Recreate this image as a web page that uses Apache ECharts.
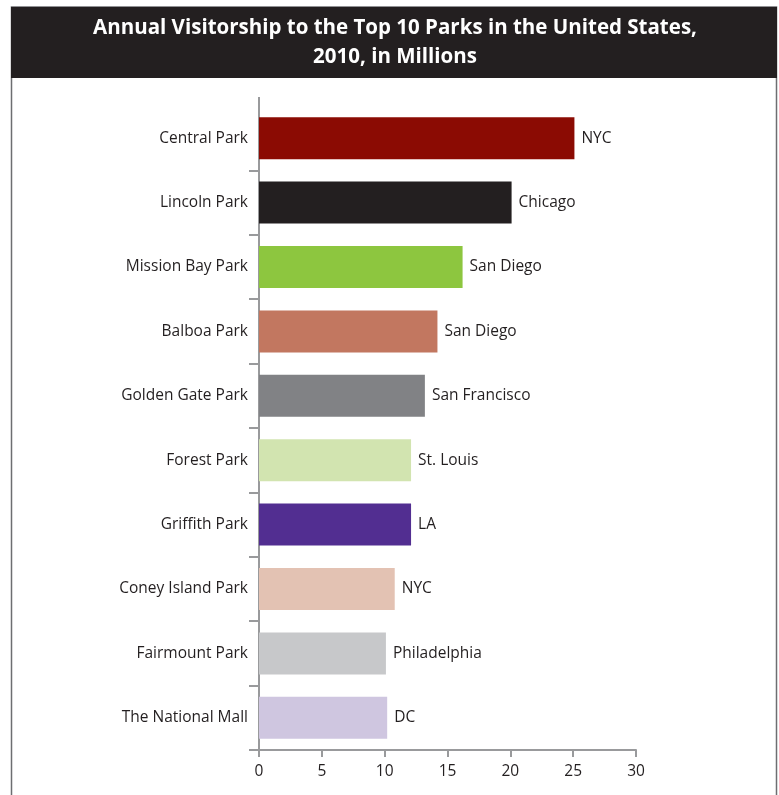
<!DOCTYPE html>
<html>
<head>
<meta charset="utf-8">
<script src="https://cdn.jsdelivr.net/npm/echarts@6/dist/echarts.min.js"></script>
<style>
html,body{margin:0;padding:0;background:#fff;}
#chart{width:779px;height:795px;}
</style>
</head>
<body>
<div id="chart"></div>
<script>
var parks = ["Central Park","Lincoln Park","Mission Bay Park","Balboa Park","Golden Gate Park","Forest Park","Griffith Park","Coney Island Park","Fairmount Park","The National Mall"];
var visitors = [25.1, 20.1, 16.2, 14.2, 13.2, 12.1, 12.1, 10.8, 10.1, 10.2];
var cities = ["NYC","Chicago","San Diego","San Diego","San Francisco","St. Louis","LA","NYC","Philadelphia","DC"];
var barColors = ["#8b0b03","#231f20","#8dc63f","#c27760","#818285","#d2e4b0","#522e91","#e3c2b3","#c7c8ca","#cfc6e0"];
var xTicks = [0,5,10,15,20,25,30];

var FONT = "Open Sans";
var chart = echarts.init(document.getElementById('chart'), null, {renderer:'canvas'});
chart.setOption({
  animation:false,
  backgroundColor:'#ffffff',
  graphic:[
    {type:'rect', shape:{x:11.5,y:7,width:765,height:800}, style:{fill:'none', stroke:'#6d6e71', lineWidth:1.5}, z:0},
    {type:'rect', shape:{x:11,y:7,width:766,height:71}, style:{fill:'#231f20'}, z:1},
    {type:'text', x:395, y:14, style:{text:'Annual Visitorship to the Top 10 Parks in the United States,\n2010, in Millions', fill:'#ffffff', font:'bold 20.5px "Open Sans"', align:'center', textAlign:'center', lineHeight:29}, z:2},
    {type:'line', shape:{x1:259, y1:97, x2:259, y2:107}, style:{stroke:'#999a9c', lineWidth:2}, z:3}
  ],
  grid:{left:259, right:143, top:106, bottom:45, containLabel:false},
  xAxis:{
    type:'value', min:xTicks[0], max:xTicks[xTicks.length-1], interval:5,
    axisLine:{show:true, lineStyle:{color:'#999a9c', width:2}},
    axisTick:{show:true, length:7, lineStyle:{color:'#999a9c', width:2}},
    splitLine:{show:false},
    axisLabel:{color:'#231f20', fontFamily:FONT, fontSize:15.5, margin:14}
  },
  yAxis:{
    type:'category', data:parks, inverse:true,
    axisLine:{show:true, lineStyle:{color:'#999a9c', width:2}},
    axisTick:{show:true, length:10, interval:function(i){ return i !== 0; }, lineStyle:{color:'#999a9c', width:2}},
    axisLabel:{color:'#231f20', fontFamily:FONT, fontSize:15.5, margin:11}
  },
  series:[{
    type:'bar',
    barWidth:42,
    data: visitors.map(function(v,i){ return {value:v, itemStyle:{color:barColors[i]}, label:{formatter:cities[i]}}; }),
    label:{show:true, position:'right', distance:7, color:'#231f20', fontFamily:FONT, fontSize:15.5}
  }]
});
</script>
</body>
</html>
